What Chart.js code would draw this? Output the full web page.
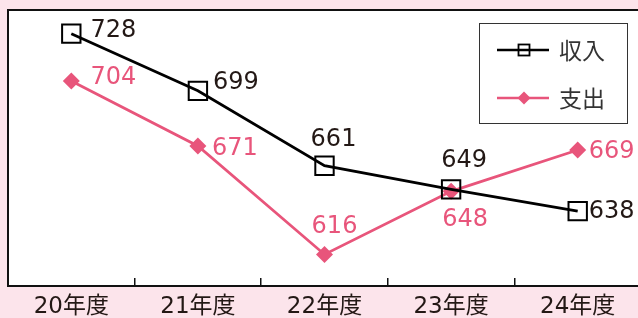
<!DOCTYPE html>
<html>
<head>
<meta charset="utf-8">
<script src="https://cdn.jsdelivr.net/npm/chart.js@4"></script>
<style>
  html, body { margin: 0; padding: 0; background: #fce4eb; overflow: hidden; }
  #wrap { width: 645px; height: 318px; }
</style>
</head>
<body>
<div id="wrap"><canvas id="chart" width="645" height="318"></canvas></div>
<script>
const years = ["20年度", "21年度", "22年度", "23年度", "24年度"];
const income = [728, 699, 661, 649, 638];
const expense = [704, 671, 616, 648, 669];
const seriesNames = ["収入", "支出"];
const yMin = 600;
const yMax = 740;

const INK = "#231815";
const PINK = "#e8557b";

// where each value label sits relative to its point [dx, dy]
const incomeLabelShift = [[42, -3], [38, -8], [9, -26], [13, -29], [34, 1]];
const expenseLabelShift = [[42, -3], [37, 3], [10, -28], [14, 28], [34, 2]];

const framePlugin = {
  id: "frame",
  beforeDraw(chart) {
    const { ctx, chartArea: a } = chart;
    ctx.save();
    ctx.fillStyle = "#fff";
    ctx.fillRect(a.left, a.top, a.right - a.left, a.bottom - a.top);
    ctx.restore();
  },
  beforeDatasetsDraw(chart) {
    const { ctx, chartArea: a } = chart;
    ctx.save();
    ctx.strokeStyle = "#111";
    ctx.lineWidth = 2;
    ctx.strokeRect(a.left, a.top, a.right - a.left + 10, a.bottom - a.top);
    ctx.restore();
  }
};

const valueLabels = {
  id: "valueLabels",
  afterDatasetsDraw(chart) {
    const { ctx } = chart;
    ctx.save();
    ctx.font = "24px 'DejaVu Sans'";
    ctx.textAlign = "center";
    ctx.textBaseline = "middle";
    chart.data.datasets.forEach((ds, i) => {
      const meta = chart.getDatasetMeta(i);
      ctx.fillStyle = ds.labelColor;
      meta.data.forEach((pt, j) => {
        const [dx, dy] = ds.labelShift[j];
        ctx.fillText(String(ds.data[j]), pt.x + dx, pt.y + dy);
      });
    });
    ctx.restore();
  }
};

const boxLegend = {
  id: "boxLegend",
  afterDraw(chart) {
    const { ctx } = chart;
    ctx.save();
    ctx.fillStyle = "#fff";
    ctx.fillRect(479.5, 23.5, 148, 100);
    ctx.strokeStyle = "#333";
    ctx.lineWidth = 1;
    ctx.strokeRect(479.5, 23.5, 148, 100);

    chart.data.datasets.forEach((ds, i) => {
      const y = 50 + i * 48;
      ctx.strokeStyle = ds.borderColor;
      ctx.lineWidth = 2.5;
      ctx.beginPath();
      ctx.moveTo(497, y);
      ctx.lineTo(549, y);
      ctx.stroke();

      if (ds.pointStyle === "rect") {
        ctx.lineWidth = 1.8;
        ctx.strokeRect(518.5, y - 5.5, 11, 11);
      } else {
        ctx.fillStyle = ds.pointBackgroundColor;
        ctx.beginPath();
        ctx.moveTo(524, y - 6.5);
        ctx.lineTo(530.5, y);
        ctx.lineTo(524, y + 6.5);
        ctx.lineTo(517.5, y);
        ctx.closePath();
        ctx.fill();
      }

      ctx.fillStyle = "#333";
      ctx.font = "23px 'Noto Sans CJK JP'";
      ctx.textAlign = "left";
      ctx.textBaseline = "middle";
      ctx.fillText(ds.label, 559, y);
    });
    ctx.restore();
  }
};

new Chart(document.getElementById("chart"), {
  type: "line",
  data: {
    labels: years,
    datasets: [
      {
        label: seriesNames[0],
        data: income,
        borderColor: "#000",
        borderWidth: 2.8,
        pointStyle: "rect",
        pointRadius: 13,
        pointBorderWidth: 2,
        pointBorderColor: "#000",
        pointBackgroundColor: "rgba(0,0,0,0)",
        labelColor: INK,
        labelShift: incomeLabelShift,
        tension: 0
      },
      {
        label: seriesNames[1],
        data: expense,
        borderColor: PINK,
        borderWidth: 2.8,
        pointStyle: "rectRot",
        pointRadius: 8.5,
        pointBorderWidth: 0,
        pointBackgroundColor: PINK,
        pointBorderColor: PINK,
        labelColor: PINK,
        labelShift: expenseLabelShift,
        tension: 0
      }
    ]
  },
  options: {
    responsive: false,
    devicePixelRatio: 1,
    animation: false,
    layout: { autoPadding: false, padding: { left: 8, top: 10, right: 4, bottom: 0 } },
    plugins: {
      legend: { display: false },
      tooltip: { enabled: false }
    },
    scales: {
      x: {
        offset: true,
        border: { display: false },
        grid: {
          offset: true,
          drawOnChartArea: false,
          drawTicks: true,
          tickLength: -8,
          color: "#111",
          lineWidth: 1.5
        },
        ticks: {
          color: INK,
          padding: 15,
          font: { family: "'DejaVu Sans', 'Noto Sans CJK JP'", size: 23 }
        },
        afterFit: s => { s.height = 32; }
      },
      y: {
        display: false,
        min: yMin,
        max: yMax
      }
    }
  },
  plugins: [framePlugin, valueLabels, boxLegend]
});
</script>
</body>
</html>
